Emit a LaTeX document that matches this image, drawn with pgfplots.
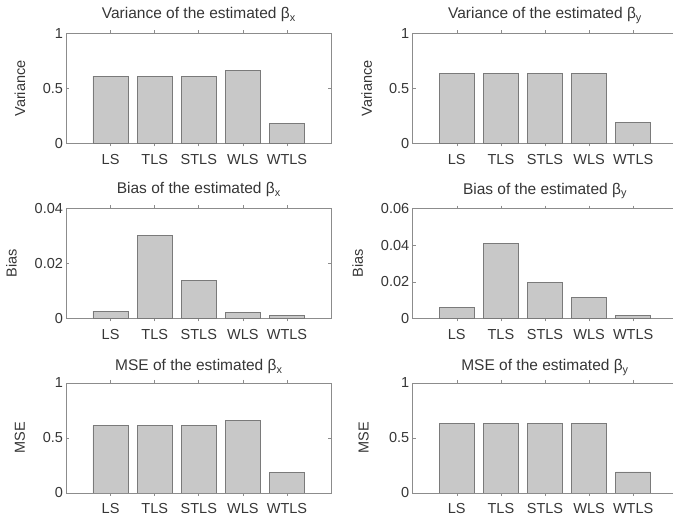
\documentclass[border=0pt]{standalone}
\usepackage{fontspec}
\setmainfont{Liberation Sans}
\usepackage{pgfplots}
\pgfplotsset{compat=1.18}
\definecolor{barfill}{HTML}{C8C8C8}
\definecolor{baredge}{HTML}{7A7A7A}
\definecolor{axisgray}{HTML}{8C8C8C}
\definecolor{textgray}{HTML}{363636}
\pgfplotsset{
  panel/.style={
    scale only axis,
    width=264.6pt, height=110pt,
    anchor=south west,
    xmin=0, xmax=6, ymin=0,
    xtick={1,2,3,4,5},
    xticklabels={LS,TLS,STLS,WLS,WTLS},
    tick align=inside,
    major tick length=3pt,
    tick style={draw=axisgray, line width=0.6pt},
    axis line style={draw=axisgray, line width=0.8pt},
    font=\fontsize{14.5}{17}\selectfont,
    /pgf/number format/assume math mode=true,
    every tick label/.append style={text=textgray},
    xticklabel style={anchor=base, yshift=-18pt},
    every axis title shift=0pt,
    title style={at={(axis description cs:0.5,1)}, anchor=base, text=textgray, font=\fontsize{15.5}{18}\selectfont},
    ylabel style={at={(axis description cs:0,0.5)}, anchor=center, text=textgray, font=\fontsize{14.5}{17}\selectfont},
    scaled y ticks=false,
    ybar, bar width=0.8,
  },
  bars/.style={fill=barfill, draw=baredge, line width=0.8pt},
}
\begin{document}
\begin{tikzpicture}
\useasboundingbox (0,0) rectangle (673pt,516pt);
% Row 1
\begin{axis}[panel, at={(66.5pt,372.5pt)}, ymax=1, ytick={0,0.5,1}, yticklabels={0,0.5,1},
  title={Variance of the estimated β\textsubscript{x}}, title style={yshift=14.5pt},
  ylabel={Variance}, ylabel style={yshift=46.5pt}]
\addplot[bars] coordinates {(1,0.613) (2,0.613) (3,0.613) (4,0.661) (5,0.186)};
\end{axis}
\begin{axis}[panel, at={(412.7pt,372.5pt)}, ymax=1, ytick={0,0.5,1}, yticklabels={0,0.5,1},
  title={Variance of the estimated β\textsubscript{y}}, title style={yshift=14.5pt},
  ylabel={Variance}, ylabel style={yshift=46pt}]
\addplot[bars] coordinates {(1,0.639) (2,0.639) (3,0.639) (4,0.639) (5,0.194)};
\end{axis}
% Row 2
\begin{axis}[panel, at={(66.5pt,197.5pt)}, ymax=0.04, ytick={0,0.02,0.04}, yticklabels={0,0.02,0.04},
  title={Bias of the estimated β\textsubscript{x}}, title style={yshift=14.5pt},
  ylabel={Bias}, ylabel style={yshift=55pt}]
\addplot[bars] coordinates {(1,0.0027) (2,0.0302) (3,0.0139) (4,0.0021) (5,0.0011)};
\end{axis}
\begin{axis}[panel, at={(412.7pt,197.5pt)}, ymax=0.06, ytick={0,0.02,0.04,0.06}, yticklabels={0,0.02,0.04,0.06},
  title={Bias of the estimated β\textsubscript{y}}, title style={yshift=14.5pt},
  ylabel={Bias}, ylabel style={yshift=55pt}]
\addplot[bars] coordinates {(1,0.0062) (2,0.0410) (3,0.0199) (4,0.0113) (5,0.0016)};
\end{axis}
% Row 3
\begin{axis}[panel, at={(66.5pt,23pt)}, ymax=1, ytick={0,0.5,1}, yticklabels={0,0.5,1},
  title={MSE of the estimated β\textsubscript{x}}, title style={yshift=12pt},
  ylabel={MSE}, ylabel style={yshift=46.5pt}]
\addplot[bars] coordinates {(1,0.612) (2,0.612) (3,0.612) (4,0.658) (5,0.190)};
\end{axis}
\begin{axis}[panel, at={(412.7pt,23pt)}, ymax=1, ytick={0,0.5,1}, yticklabels={0,0.5,1},
  title={MSE of the estimated β\textsubscript{y}}, title style={yshift=12pt},
  ylabel={MSE}, ylabel style={yshift=49pt}]
\addplot[bars] coordinates {(1,0.636) (2,0.636) (3,0.636) (4,0.636) (5,0.191)};
\end{axis}
\end{tikzpicture}
\end{document}
